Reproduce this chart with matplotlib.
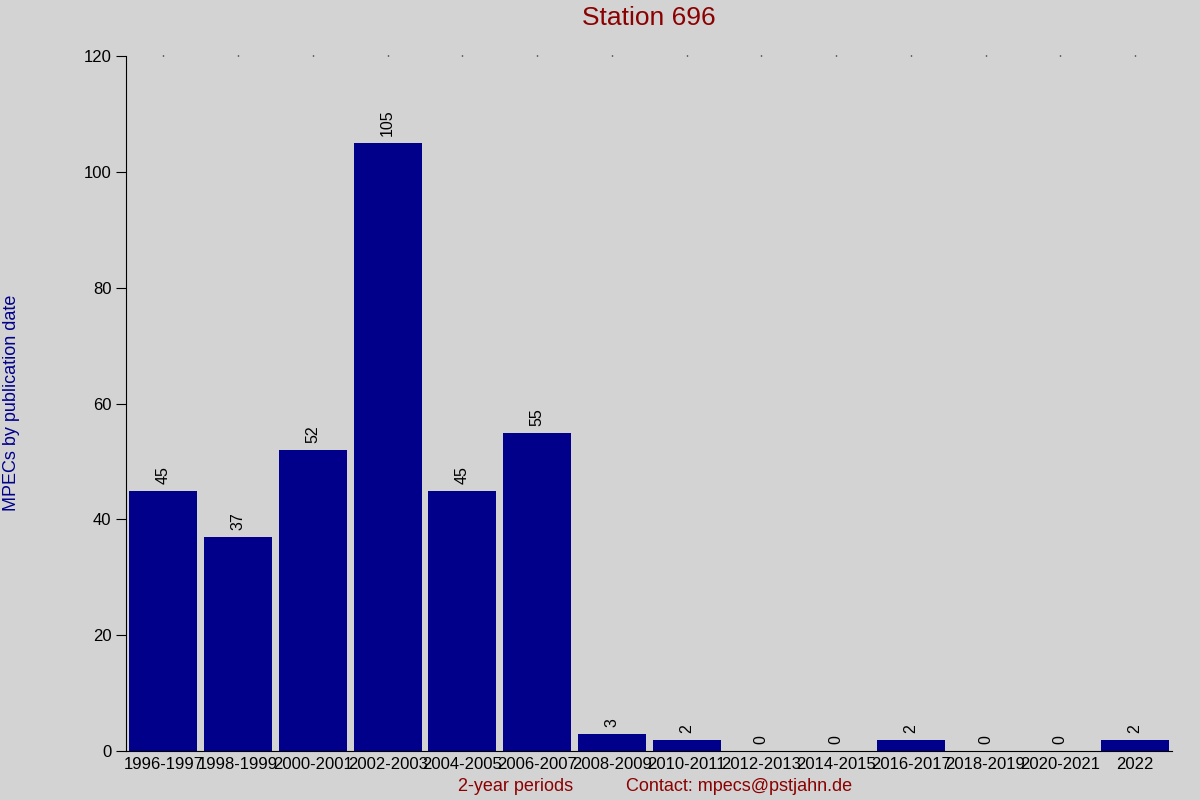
import numpy as np
import matplotlib.pyplot as plt

periods = ['1996-1997', '1998-1999', '2000-2001', '2002-2003', '2004-2005',
           '2006-2007', '2008-2009', '2010-2011', '2012-2013', '2014-2015',
           '2016-2017', '2018-2019', '2020-2021', '2022']
counts = [45, 37, 52, 105, 45, 55, 3, 2, 0, 0, 2, 0, 0, 2]

plt.rcParams['font.family'] = ['Liberation Sans', 'DejaVu Sans']

fig = plt.figure(figsize=(12, 8), dpi=100, facecolor='#d3d3d3')
ax = fig.add_axes([0.105, 0.061, 0.872, 0.869])
ax.set_facecolor('#d3d3d3')

x = np.arange(len(periods))
bars = ax.bar(x, counts, width=0.91, color='#00008b')
for xi, v in zip(x, counts):
    ax.annotate(str(v), (xi, v), xytext=(0, 5), textcoords='offset points',
                rotation=90, ha='center', va='bottom', fontsize=11.5)

ax.set_xlim(-0.5, len(periods) - 0.5)
ax.set_ylim(0, 120)
ax.set_yticks(np.arange(0, 121, 20))
ax.set_xticks(x)
ax.set_xticklabels(periods, fontsize=12)
ax.tick_params(axis='y', labelsize=12, length=7, direction='out')
ax.tick_params(axis='x', bottom=False, top=True, length=1, width=1, pad=3)

for s in ['top', 'right']:
    ax.spines[s].set_visible(False)

# title centred over the plot area, not the figure
fig.text(0.541, 0.977, 'Station 696', color='#8b0000', fontsize=19,
         ha='center', va='center')
fig.text(0.010, 0.496, 'MPECs by publication date', color='#00008b', fontsize=13,
         rotation=90, ha='center', va='center')
fig.text(0.43, 0.017, '2-year periods', color='#8b0000', fontsize=13,
         ha='center', va='center')
fig.text(0.522, 0.017, 'Contact: mpecs@pstjahn.de', color='#8b0000', fontsize=13,
         ha='left', va='center')

fig.savefig('out.png', dpi=100, facecolor=fig.get_facecolor())
